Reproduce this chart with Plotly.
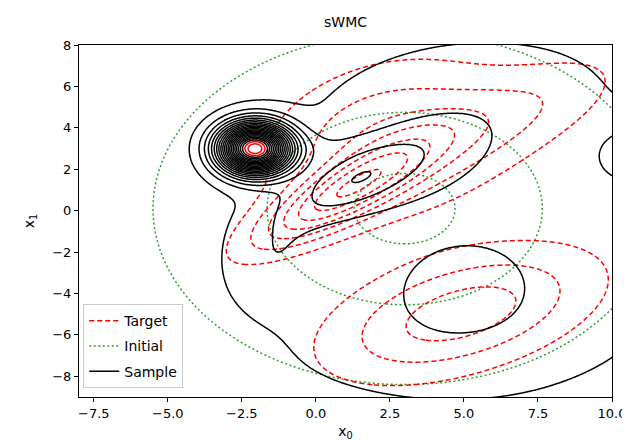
import numpy as np
import plotly.graph_objects as go

# ---- axis extents (data space) ----
x_range = [-8, 10]
y_range = [-9, 8]
xs = np.linspace(-8.5, 10.5, 381)
ys = np.linspace(-9.5, 8.5, 361)
X, Y = np.meshgrid(xs, ys)

# ---- Gaussian-mixture parameters ----
# height, mean_x, mean_y, sigma_major, sigma_minor, angle_deg
target_heights = [5.5, 2.9, 1.5, 3.35, 0.25]
target_mx = [0.9, 2.44, 7.21, 4.9, 5.0]
target_my = [0.8, 3.57, 4.95, -5.0, -4.5]
target_s1 = [2.6, 3.0, 3.0, 3.23, 5.5]
target_s2 = [0.8, 2.3, 1.3, 1.72, 2.8]
target_ang = [40, 35, 35, 26, 28]
target_levels = (1, 9, 1)  # start, end, step

initial_heights = [1.0]
initial_mx = [3.0]
initial_my = [0.1]
initial_s1 = [4.0]
initial_s2 = [4.0]
initial_ang = [0]
initial_levels = (0.1046, 0.914, 0.4045)

sample_heights = [23.0, 1.8, 1.25, 1.0, 0.9, 1.6, 0.35, 0.15, 2.2, 0.6]
sample_mx = [-2.07, 1.1, 3.0, -1.5, 4.9, 5.4, 3.5, 5.0, 11.0, -0.3]
sample_my = [3.0, 1.35, 2.5, -2.3, -3.8, -0.5, -6.5, 6.5, 2.7, 3.0]
sample_s1 = [0.8, 1.7, 2.7, 1.7, 1.85, 6.5, 5.0, 4.5, 1.0, 1.2]
sample_s2 = [0.8, 0.8, 1.3, 1.1, 1.65, 8.0, 1.8, 1.6, 1.0, 0.6]
sample_ang = [0, 38, 33, 80, 15, 0, 8, 10, 0, 15]
sample_levels_black = (1, 21, 1)
sample_levels_red = (22, 30, 1)

legend_names = ["Target", "Initial", "Sample"]


def mixture(h, mx, my, s1, s2, ang):
    Z = np.zeros_like(X)
    for hh, a, b, p, q, t in zip(h, mx, my, s1, s2, ang):
        th = np.deg2rad(t)
        dx, dy = X - a, Y - b
        u = dx * np.cos(th) + dy * np.sin(th)
        v = -dx * np.sin(th) + dy * np.cos(th)
        Z += hh * np.exp(-0.5 * ((u / p) ** 2 + (v / q) ** 2))
    return Z


Zt = mixture(target_heights, target_mx, target_my, target_s1, target_s2, target_ang)
Zi = mixture(initial_heights, initial_mx, initial_my, initial_s1, initial_s2, initial_ang)
Zs = mixture(sample_heights, sample_mx, sample_my, sample_s1, sample_s2, sample_ang)


def ctr(Z, lv, color, dash):
    return go.Contour(
        x=xs, y=ys, z=Z,
        contours=dict(start=lv[0], end=lv[1], size=lv[2], coloring="none"),
        line=dict(color=color, width=1.5, dash=dash, smoothing=0.8),
        showscale=False, showlegend=False, hoverinfo="skip",
    )


fig = go.Figure()
fig.add_trace(ctr(Zi, initial_levels, "#2ca02c", "2px,2.5px"))
fig.add_trace(ctr(Zt, target_levels, "red", "5px,3px"))
fig.add_trace(ctr(Zs, sample_levels_black, "black", "solid"))
fig.add_trace(ctr(Zs, sample_levels_red, "red", "solid"))

styles = [("red", "5px,3px"), ("#2ca02c", "2px,2.5px"), ("black", "solid")]
for name, (c, d) in zip(legend_names, styles):
    fig.add_trace(go.Scatter(x=[None], y=[None], mode="lines", name=name, legendgroup=name,
                             line=dict(color=c, dash=d, width=1.5)))

axis_common = dict(showline=True, linecolor="black", linewidth=1, mirror=True,
                   ticks="outside", ticklen=4, tickcolor="black", showgrid=False,
                   zeroline=False, tickfont=dict(size=13, color="black"))
fig.update_xaxes(range=x_range, tickvals=[-7.5, -5, -2.5, 0, 2.5, 5, 7.5, 10],
                 ticktext=["−7.5", "−5.0", "−2.5", "0.0", "2.5", "5.0", "7.5", "10.0"],
                 title=dict(text="x<sub>0</sub>", font=dict(size=14), standoff=6), **axis_common)
fig.update_yaxes(range=y_range, tickvals=[-8, -6, -4, -2, 0, 2, 4, 6, 8],
                 ticktext=["−8", "−6", "−4", "−2", "0", "2", "4", "6", "8"],
                 title=dict(text="x<sub>1</sub>", font=dict(size=14), standoff=14), **axis_common)

fig.update_layout(
    width=630, height=440,
    margin=dict(l=71, r=17, t=37, b=50),
    paper_bgcolor="white", plot_bgcolor="white",
    font=dict(family="DejaVu Sans", color="black"),
    title=dict(text="sWMC", x=0.5, xref="paper", y=0.967, yanchor="middle", font=dict(size=14)),
    legend=dict(x=0.008, y=0.025, xanchor="left", yanchor="bottom",
                bgcolor="rgba(255,255,255,0.8)", bordercolor="#cccccc", borderwidth=1,
                font=dict(size=14), tracegroupgap=4),
)

fig.write_html("out.html")
